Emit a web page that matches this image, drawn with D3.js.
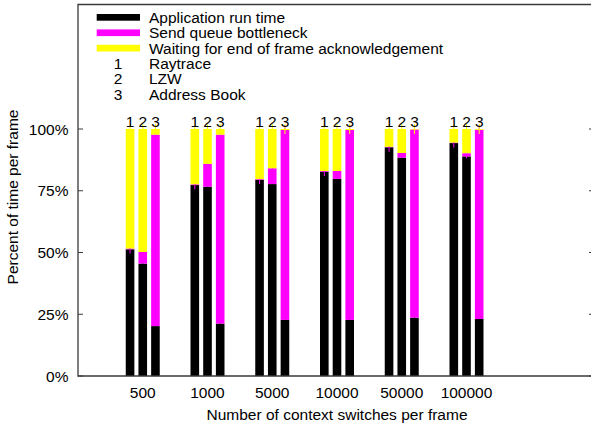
<!DOCTYPE html>
<html>
<head>
<meta charset="utf-8">
<script src="https://cdn.jsdelivr.net/npm/d3@7"></script>
<style>
  body { margin: 0; background: #fff; }
  svg { display: block; font-family: "Liberation Sans", Arial, sans-serif; }
</style>
</head>
<body>
<script>
const categories = ["500", "1000", "5000", "10000", "50000", "100000"];
const benchmarks = ["Raytrace", "LZW", "Address Book"];
const seriesNames = [
  "Application run time",
  "Send queue bottleneck",
  "Waiting for end of frame acknowledgement"
];
const yTicks = [0, 25, 50, 75, 100];

// percent of frame time, one array per benchmark and series
const raytraceRun = [51.3, 77.3, 79.4, 82.7, 92.6, 94.3];
const raytraceSend = [0.3, 0.3, 0.3, 0.3, 0.2, 0.2];
const raytraceWait = [48.4, 22.4, 20.3, 17.0, 7.2, 5.5];

const lzwRun = [45.5, 76.6, 77.7, 79.8, 88.4, 88.9];
const lzwSend = [4.7, 9.3, 6.4, 3.2, 1.9, 1.3];
const lzwWait = [49.8, 14.1, 15.9, 17.0, 9.7, 9.8];

const addrRun = [20.2, 21.2, 22.7, 22.7, 23.6, 23.1];
const addrSend = [77.5, 76.5, 76.9, 76.9, 76.2, 76.6];
const addrWait = [2.3, 2.3, 0.4, 0.4, 0.2, 0.3];

const colors = ["#000000", "#ff00ff", "#ffff00"];

const width = 591;
const height = 428;
const plotLeft = 78;
const plotRight = 596;
const plotTop = 4.5;
const plotBottom = 376;
const fontSize = 15.5;

const svg = d3
  .select("body")
  .append("svg")
  .attr("width", width)
  .attr("height", height);

const xScale = d3.scaleLinear().domain([-1, 7]).range([plotLeft, plotRight]);
const yScale = d3.scaleLinear().domain([0, 100]).range([plotBottom, 129]);

const barStep = 0.196;
const barWidth = xScale(0.133) - xScale(0);

const table = [
  [raytraceRun, raytraceSend, raytraceWait],
  [lzwRun, lzwSend, lzwWait],
  [addrRun, addrSend, addrWait]
];

// flatten into stacked segments
const bars = [];
categories.forEach((c, i) => {
  benchmarks.forEach((b, j) => {
    let base = 0;
    const segs = table[j].map((series, k) => {
      const s = { k, y0: base, y1: base + series[i] };
      base += series[i];
      return s;
    });
    bars.push({ i, j, cx: xScale(i + (j - 1) * barStep), segs });
  });
});

const barGroup = svg.append("g");

bars.forEach((bar) => {
  const g = barGroup.append("g");
  bar.segs.forEach((s) => {
    g.append("rect")
      .attr("x", bar.cx - barWidth / 2)
      .attr("width", barWidth)
      .attr("y", yScale(s.y1))
      .attr("height", yScale(s.y0) - yScale(s.y1))
      .attr("fill", colors[s.k]);
    // small error tick at the top of each segment
    g.append("line")
      .attr("x1", bar.cx)
      .attr("x2", bar.cx)
      .attr("y1", yScale(s.y1) - 5)
      .attr("y2", yScale(s.y1) + 5)
      .attr("stroke", colors[s.k])
      .attr("stroke-width", 1);
  });
});

// bar number labels
barGroup
  .selectAll("text.num")
  .data(bars)
  .enter()
  .append("text")
  .attr("class", "num")
  .attr("x", (d) => d.cx)
  .attr("y", yScale(100) - 2)
  .attr("text-anchor", "middle")
  .attr("font-size", fontSize)
  .attr("fill", "#000")
  .text((d) => d.j + 1);

// frame
const axisColor = "#3a3a3a";
svg.append("path")
  .attr("d", `M${plotRight},${plotTop}H${plotLeft}V${plotBottom}H${plotRight}`)
  .attr("fill", "none")
  .attr("stroke", axisColor)
  .attr("stroke-width", 1.3);

// y ticks and labels
const yAxis = svg.append("g");
yTicks.forEach((t) => {
  yAxis.append("line")
    .attr("x1", plotLeft).attr("x2", plotLeft + 5)
    .attr("y1", yScale(t)).attr("y2", yScale(t))
    .attr("stroke", axisColor);
  yAxis.append("line")
    .attr("x1", plotRight - 7).attr("x2", plotRight)
    .attr("y1", yScale(t)).attr("y2", yScale(t))
    .attr("stroke", axisColor);
  yAxis.append("text")
    .attr("x", 68.5)
    .attr("y", yScale(t) + 5.5)
    .attr("text-anchor", "end")
    .attr("font-size", fontSize)
    .attr("fill", "#000")
    .text(`${t}%`);
});

// x tick labels
svg.append("g")
  .selectAll("text")
  .data(categories)
  .enter()
  .append("text")
  .attr("x", (d, i) => xScale(i))
  .attr("y", 397.5)
  .attr("text-anchor", "middle")
  .attr("font-size", fontSize)
  .attr("fill", "#000")
  .text((d) => d);

// axis titles
svg.append("text")
  .attr("x", (plotLeft + plotRight) / 2)
  .attr("y", 419.5)
  .attr("text-anchor", "middle")
  .attr("font-size", fontSize)
  .attr("fill", "#000")
  .text("Number of context switches per frame");

svg.append("text")
  .attr("transform", "translate(18 197) rotate(-90)")
  .attr("text-anchor", "middle")
  .attr("font-size", fontSize)
  .attr("fill", "#000")
  .text("Percent of time per frame");

// legend
const legend = svg.append("g");
const legendRows = seriesNames.concat(benchmarks);
legendRows.forEach((name, r) => {
  const base = 22.7 + 15.4 * r;
  if (r < 3) {
    legend.append("rect")
      .attr("x", 96.7)
      .attr("y", base - 8.7)
      .attr("width", 43.3)
      .attr("height", 6.7)
      .attr("fill", colors[r]);
  } else {
    legend.append("text")
      .attr("x", 118)
      .attr("y", base)
      .attr("text-anchor", "middle")
      .attr("font-size", fontSize)
      .attr("fill", "#000")
      .text(r - 2);
  }
  legend.append("text")
    .attr("x", 149)
    .attr("y", base)
    .attr("font-size", fontSize)
    .attr("fill", "#000")
    .text(name);
});
</script>
</body>
</html>
